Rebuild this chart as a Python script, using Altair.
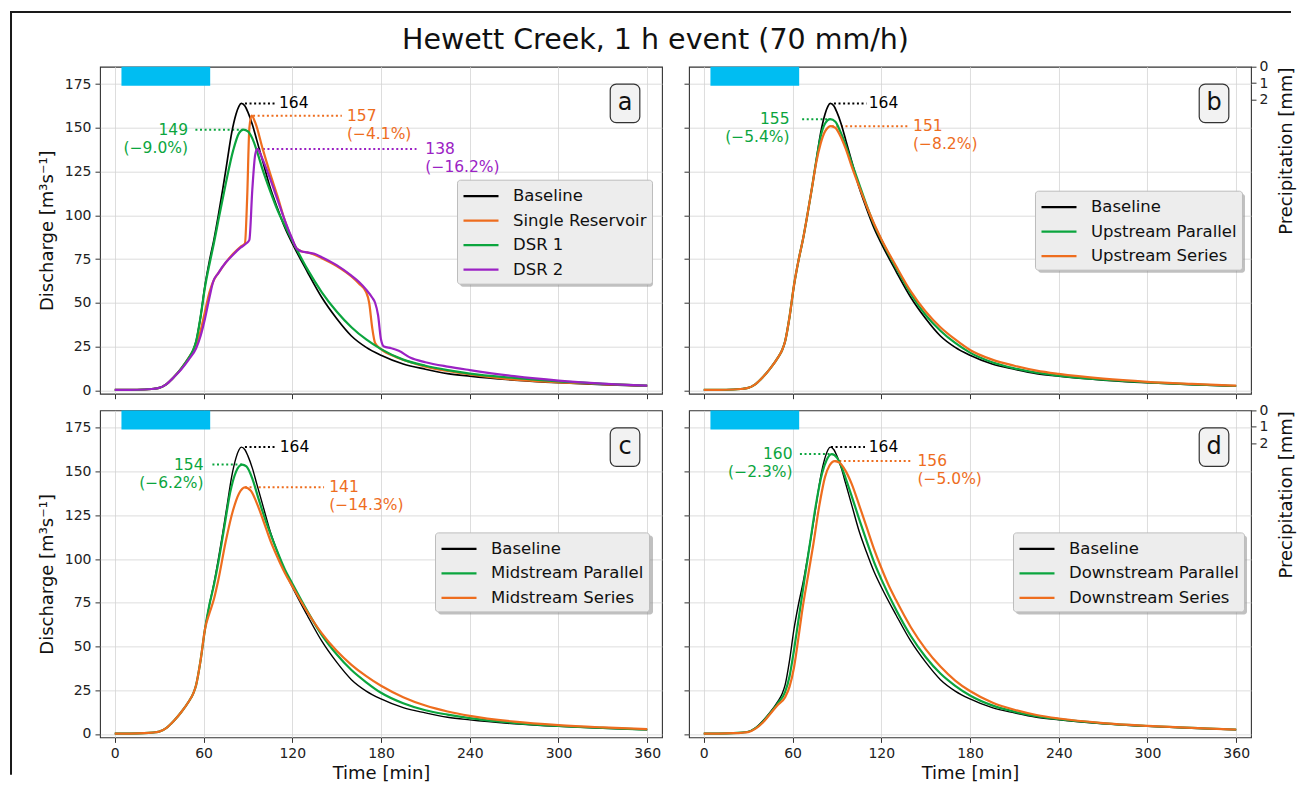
import altair as alt
import pandas as pd

FONT = "DejaVu Sans"
BLACK = "#000000"
ORANGE = "#EE6D1E"
GREEN = "#0BA53E"
PURPLE = "#9B22C4"
RAIN = "#00BDF2"

TITLE = "Hewett Creek, 1 h event (70 mm/h)"

# ---------------- data ----------------
x_ticks = [0, 60, 120, 180, 240, 300, 360]
y_ticks = [0, 25, 50, 75, 100, 125, 150, 175]
p_ticks = [0, 1, 2]

rain_t0 = [4.5]
rain_t1 = [64.5]
rain_mm = [1.17]

baseline = [(0, 0.2), (10, 0.2), (20, 0.4), (25, 0.7), (30, 1.3), (35, 3.5), (40, 7.5), (45, 12.5),
            (50, 18.5), (53, 23), (55, 28), (58, 42), (61, 60), (64, 74), (67, 86), (70, 100), (73, 115),
            (76, 131), (79, 147), (82, 158), (84, 162.5), (85.5, 164), (88, 162.5), (90, 159), (93, 152),
            (96, 143), (100, 131), (105, 116), (110, 104), (115, 93), (120, 84), (130, 68), (140, 53),
            (150, 41), (160, 31), (170, 24.5), (180, 20), (195, 15), (210, 12), (225, 9.5), (240, 8),
            (270, 5.8), (300, 4.3), (330, 3.2), (360, 2.4)]

single_reservoir = [(0, 0.2), (10, 0.2), (20, 0.4), (25, 0.7), (30, 1.3), (35, 3.5), (40, 7.5), (45, 12.5),
                    (50, 18.5), (53, 22.5), (55, 26), (58, 34), (61, 45), (64, 56), (67, 63), (70, 67), (75, 73),
                    (80, 78), (85, 82), (88, 84), (89.5, 110), (91, 150), (92.5, 157), (95, 153), (100, 138),
                    (105, 124), (110, 111), (115, 97), (120, 86), (123, 81), (126, 79.5), (130, 78.8),
                    (135, 77.5), (140, 75.5), (150, 71), (160, 65), (165, 61), (170, 56), (172, 50), (174, 36),
                    (176, 27), (180, 23.5), (190, 19), (200, 16), (210, 13.5), (225, 11), (240, 9), (270, 6),
                    (300, 4.5), (330, 3.5), (360, 2.5)]

dsr1 = [(0, 0.2), (10, 0.2), (20, 0.4), (25, 0.7), (30, 1.3), (35, 3.5), (40, 7.5), (45, 12.5), (50, 18.5),
        (53, 23), (55, 28), (58, 42), (61, 59), (64, 72), (67, 84), (70, 97), (75, 118), (80, 137), (84, 147),
        (87, 149), (90, 148), (93, 144), (96, 137), (100, 126), (105, 114), (110, 103), (115, 94),
        (120, 85.5), (130, 69.5), (140, 56), (150, 45), (160, 36), (170, 29), (180, 23.5), (195, 17.5),
        (210, 14), (225, 11.5), (240, 9.5), (270, 7), (300, 5), (330, 3.7), (360, 2.6)]

dsr2 = [(0, 0.2), (10, 0.2), (20, 0.4), (25, 0.7), (30, 1.3), (35, 3.5), (40, 7.5), (45, 12), (50, 17.5),
        (55, 24), (58, 31), (61, 41), (64, 53), (66.5, 62), (70, 67), (75, 73), (80, 77.5), (85, 81.5),
        (89, 84), (91, 86), (93, 115), (95, 135), (96.5, 138), (98, 136), (100, 132), (105, 121), (110, 109),
        (115, 97), (120, 86.5), (123, 81), (126, 79.5), (130, 78.8), (135, 78), (140, 76), (150, 71.5),
        (160, 65.5), (165, 62), (170, 57.5), (174, 53), (176, 50), (178, 43), (180, 29), (182, 25),
        (187, 24), (192, 22.5), (200, 18.5), (210, 16), (225, 13.5), (240, 11.5), (270, 8), (300, 5.5),
        (330, 3.8), (360, 2.6)]

upstream_parallel = [(0, 0.2), (10, 0.2), (20, 0.4), (25, 0.7), (30, 1.3), (35, 3.5), (40, 7.5), (45, 12.5),
                     (50, 18.5), (53, 23), (55, 28), (58, 42), (61, 60), (64, 74), (67, 86), (70, 100),
                     (73, 115), (76, 131), (79, 145), (82, 152.5), (85.5, 155), (89, 153.5), (92, 148.5),
                     (96, 140), (100, 130), (105, 118), (110, 106), (115, 95), (120, 86), (130, 70), (140, 55),
                     (150, 43), (160, 34), (170, 27), (180, 21.5), (195, 16), (210, 12.5), (225, 10),
                     (240, 8.3), (270, 6), (300, 4.5), (330, 3.3), (360, 2.4)]

upstream_series = [(0, 0.2), (10, 0.2), (20, 0.4), (25, 0.7), (30, 1.3), (35, 3.5), (40, 7.5), (45, 12.5),
                   (50, 18.5), (53, 23), (55, 28), (58, 42), (61, 60), (64, 74), (67, 86), (70, 100),
                   (73, 115), (76, 130), (79, 141), (82, 148), (86, 151), (89, 150), (92, 146), (96, 138),
                   (100, 128), (105, 116.5), (110, 105.5), (115, 95.5), (120, 86.5), (130, 71), (140, 56.5),
                   (150, 45), (160, 36), (170, 29), (180, 23), (195, 17.5), (210, 14), (225, 11.2),
                   (240, 9.3), (270, 6.6), (300, 4.8), (330, 3.6), (360, 2.6)]

midstream_parallel = [(0, 0.2), (10, 0.2), (20, 0.4), (25, 0.7), (30, 1.3), (35, 3.5), (40, 7.5), (45, 12.5),
                      (50, 18.5), (53, 23), (55, 28), (58, 42), (61, 60), (64, 74), (67, 85), (70, 98),
                      (74, 118), (78, 138), (82, 150), (86, 154), (89, 153), (93, 146), (97, 135), (100, 127),
                      (105, 115), (110, 104), (115, 94), (120, 86), (130, 70.5), (140, 56.5), (150, 45.5),
                      (160, 36.5), (170, 29.5), (180, 23.5), (195, 17.5), (210, 13.5), (225, 11), (240, 9),
                      (270, 6.3), (300, 4.6), (330, 3.4), (360, 2.5)]

midstream_series = [(0, 0.2), (10, 0.2), (20, 0.4), (25, 0.7), (30, 1.3), (35, 3.5), (40, 7.5), (45, 12.5),
                    (50, 18.5), (53, 23), (55, 28), (58, 42), (61, 60), (64, 69), (67, 77), (70, 88), (75, 110),
                    (80, 128), (84, 137.5), (88, 141), (92, 139), (96, 132), (100, 123), (105, 111),
                    (110, 101), (115, 92), (120, 84.5), (130, 70), (140, 57.5), (150, 47.5), (160, 39.5),
                    (170, 33), (180, 27.5), (195, 21), (210, 16.2), (225, 12.8), (240, 10.3), (270, 7),
                    (300, 5), (330, 3.7), (360, 2.7)]

downstream_parallel = [(0, 0.2), (10, 0.2), (20, 0.4), (25, 0.7), (30, 1.2), (35, 3.3), (40, 7), (45, 12),
                       (50, 17.5), (55, 24), (58, 33), (61, 48), (64, 65), (68, 88), (72, 110), (76, 132),
                       (80, 149), (83, 156.5), (86.5, 160), (90, 158), (93, 153), (96, 146), (100, 136),
                       (105, 123), (110, 110.5), (115, 98.5), (120, 88.5), (130, 71), (140, 56), (150, 44),
                       (160, 34.5), (170, 27.5), (180, 22), (195, 16.3), (210, 12.7), (225, 10.2), (240, 8.4),
                       (270, 6), (300, 4.5), (330, 3.4), (360, 2.5)]

downstream_series = [(0, 0.2), (10, 0.2), (20, 0.4), (25, 0.6), (30, 1.0), (35, 3), (40, 6.5), (45, 11.5),
                     (50, 16.5), (55, 21), (58, 27), (61, 38), (64, 55), (67, 73), (70, 88), (74, 108),
                     (78, 130), (82, 147), (85, 153.5), (88.5, 156), (92, 155), (95.5, 151), (100, 143),
                     (105, 131), (110, 118.5), (115, 106), (120, 95), (125, 85), (130, 76.5), (140, 61),
                     (150, 48.5), (160, 38.5), (170, 30.5), (180, 24.5), (195, 18), (210, 13.8), (225, 10.8),
                     (240, 8.8), (270, 6.2), (300, 4.6), (330, 3.4), (360, 2.5)]

# peak annotations: (series, dotted-line start, dotted-line end, peak, label, label x)
ann_a = [("Baseline", 88, 108, 164, "164", 111),
         ("Single Reservoir", 93.5, 153.5, 157, "157\n(\u22124.1%)", 157),
         ("DSR 1", 54.5, 86.5, 149, "149\n(\u22129.0%)", 49.5),
         ("DSR 2", 97, 204, 138, "138\n(\u221216.2%)", 210)]
ann_b = [("Baseline", 88, 110, 164, "164", 111.5),
         ("Upstream Parallel", 66.5, 85.5, 155, "155\n(\u22125.4%)", 58),
         ("Upstream Series", 86.5, 138, 151, "151\n(\u22128.2%)", 141.5)]
ann_c = [("Baseline", 88, 108, 164, "164", 111.5),
         ("Midstream Parallel", 66, 86.5, 154, "154\n(\u22126.2%)", 60),
         ("Midstream Series", 88, 141.5, 141, "141\n(\u221214.3%)", 145)]
ann_d = [("Baseline", 86, 109, 164, "164", 111.5),
         ("Downstream Parallel", 65, 86.5, 160, "160\n(\u22122.3%)", 60),
         ("Downstream Series", 88.5, 140.5, 156, "156\n(\u22125.0%)", 144.5)]

X_DOMAIN = [-10, 370]
Y_DOMAIN = [-2, 185]
P_DOMAIN = [0, 20]
W, H = 562, 327


def make_panel(series, colors, widths, ann, letter, bottom, left, right, lx, ly, lw, lh, extras=()):
    names = [s[0] for s in series]
    cmap = dict(zip(names, colors))
    xs = alt.Scale(domain=X_DOMAIN, nice=False, zero=False)
    ys = alt.Scale(domain=Y_DOMAIN, nice=False, zero=False)
    ps = alt.Scale(domain=P_DOMAIN, nice=False, zero=False, reverse=True)
    if bottom:
        xaxis = alt.Axis(values=x_ticks, grid=True, title="Time [min]", labels=True)
    else:
        xaxis = alt.Axis(values=x_ticks, grid=True, title=None, labels=False)
    if left:
        yaxis = alt.Axis(values=y_ticks, grid=True, title="Discharge [m\u00b3s\u207b\u00b9]", labels=True,
                         orient="left", titlePadding=8)
    else:
        yaxis = alt.Axis(values=y_ticks, grid=True, title=None, labels=False, orient="left")
    if right:
        paxis = alt.Axis(values=p_ticks, orient="right", grid=False, title="Precipitation [mm]",
                         titleAngle=270, titleX=36, titleY=84, titleAlign="center",
                         titleBaseline="middle", labelPadding=3)
    else:
        paxis = None

    rain_df = pd.DataFrame({"t0": rain_t0, "t1": rain_t1, "p0": [0] * len(rain_mm), "p1": rain_mm})
    rain = alt.Chart(rain_df).mark_rect(color=RAIN).encode(
        x=alt.X("t0:Q", scale=xs, axis=xaxis), x2="t1:Q",
        y=alt.Y("p0:Q", scale=ps, axis=paxis), y2="p1:Q")

    legend = alt.Legend(orient="none", legendX=lx, legendY=ly, title=None, fillColor="#EDEDED",
                        strokeColor="#BDBDBD", cornerRadius=3, padding=5, symbolType="M-1,0H2.5",
                        symbolSize=400, symbolStrokeWidth=2.2, labelFont=FONT, labelFontSize=16.5,
                        labelColor="#111111", labelOffset=28, rowPadding=4.5, labelLimit=400)
    cscale = alt.Scale(domain=names, range=colors)

    ann_df = pd.DataFrame(ann, columns=["s", "x1", "x2", "y", "label", "tx"])
    ann_df["c"] = ann_df["s"].map(cmap)
    ann_df["al"] = ["right" if tx < x1 else "left" for tx, x1 in zip(ann_df["tx"], ann_df["x1"])]

    rules = alt.Chart(ann_df).mark_rule(strokeDash=[2, 2.6], strokeWidth=2).encode(
        x=alt.X("x1:Q", scale=xs, axis=xaxis), x2="x2:Q",
        y=alt.Y("y:Q", scale=ys, axis=yaxis), color=alt.Color("c:N", scale=None))

    lines = []
    for (name, pts), w in zip(series, widths):
        df = pd.DataFrame({"t": [p[0] for p in pts], "q": [p[1] for p in pts], "s": name})
        lines.append(alt.Chart(df).mark_line(strokeWidth=w, interpolate="monotone").encode(
            x=alt.X("t:Q", scale=xs, axis=xaxis), y=alt.Y("q:Q", scale=ys, axis=yaxis),
            color=alt.Color("s:N", scale=cscale, legend=legend)))

    texts = []
    for al in ["left", "right"]:
        sub = ann_df[ann_df["al"] == al]
        if len(sub):
            texts.append(alt.Chart(sub).mark_text(align=al, baseline="middle", font=FONT, fontSize=15.5,
                                                  lineBreak="\n", lineHeight=18).encode(
                x=alt.X("tx:Q", scale=xs, axis=xaxis), y=alt.Y("y:Q", scale=ys, axis=yaxis),
                text="label:N", color=alt.Color("c:N", scale=None)))

    lab_df = pd.DataFrame({"t0": [335], "t1": [355], "q0": [153], "q1": [175], "tc": [345], "qc": [164],
                           "txt": [letter]})
    box = alt.Chart(lab_df).mark_rect(fill="#F2F2F2", stroke="#333333", strokeWidth=1.2, cornerRadius=6).encode(
        x=alt.X("t0:Q", scale=xs, axis=xaxis), x2="t1:Q", y=alt.Y("q0:Q", scale=ys, axis=yaxis), y2="q1:Q")
    let = alt.Chart(lab_df).mark_text(font=FONT, fontSize=24, color="#111111", baseline="middle").encode(
        x=alt.X("tc:Q", scale=xs, axis=xaxis), y=alt.Y("qc:Q", scale=ys, axis=yaxis), text="txt:N")

    # drop shadow under the legend box (legend itself is drawn on top)
    shadow = alt.Chart(pd.DataFrame({"k": [0]})).mark_rect(fill="#8C8C8C", opacity=0.55, cornerRadius=3).encode(
        x=alt.value(lx + 3), x2=alt.value(lx + 3 + lw), y=alt.value(ly + 3), y2=alt.value(ly + 3 + lh))

    inner = alt.layer(rules, *lines, *texts, box, let, shadow, *extras)
    return alt.layer(rain, inner).resolve_scale(y="independent").properties(width=W, height=H)


# figure title and the figure's outer frame (decorations, placed relative to panel a)
one = pd.DataFrame({"txt": [TITLE]})
title_mark = alt.Chart(one).mark_text(font=FONT, fontSize=28.5, color="#111111", align="center",
                                      baseline="alphabetic").encode(
    x=alt.value(555.5), y=alt.value(-17.5), text="txt:N")
frame_top = alt.Chart(one).mark_rule(color="#1A1A1A", strokeWidth=2).encode(
    x=alt.value(-90), x2=alt.value(1191), y=alt.value(-54.7))
frame_left = alt.Chart(one).mark_rule(color="#1A1A1A", strokeWidth=2).encode(
    x=alt.value(-89), y=alt.value(-55.7), y2=alt.value(708))

pa = make_panel([("Baseline", baseline), ("Single Reservoir", single_reservoir), ("DSR 1", dsr1), ("DSR 2", dsr2)],
                [BLACK, ORANGE, GREEN, PURPLE], [1.7, 2.2, 2.2, 2.2], ann_a, "a",
                bottom=False, left=True, right=False, lx=357, ly=113, lw=193, lh=104,
                extras=(title_mark, frame_top, frame_left))
pb = make_panel([("Baseline", baseline), ("Upstream Parallel", upstream_parallel), ("Upstream Series", upstream_series)],
                [BLACK, GREEN, ORANGE], [1.7, 2.2, 2.2], ann_b, "b",
                bottom=False, left=False, right=True, lx=346, ly=124, lw=207, lh=79)
pc = make_panel([("Baseline", baseline), ("Midstream Parallel", midstream_parallel), ("Midstream Series", midstream_series)],
                [BLACK, GREEN, ORANGE], [1.4, 2.2, 2.2], ann_c, "c",
                bottom=True, left=True, right=False, lx=335, ly=122, lw=215, lh=79)
pd_ = make_panel([("Baseline", baseline), ("Downstream Parallel", downstream_parallel), ("Downstream Series", downstream_series)],
                 [BLACK, GREEN, ORANGE], [1.4, 2.2, 2.2], ann_d, "d",
                 bottom=True, left=False, right=True, lx=324, ly=122, lw=231, lh=79)

chart = alt.concat(pa, pb, pc, pd_, columns=2, spacing={"row": 16.7, "column": 27}, align="each",
                   bounds="flush").resolve_scale(
    color="independent", x="independent", y="independent"
).properties(
    padding={"left": 0, "top": 0.7, "right": 0, "bottom": 0},
).configure_view(stroke="#333333", strokeWidth=1.1).configure_axis(
    labelFont=FONT, labelFontSize=14, labelColor="#222222", titleFont=FONT, titleFontSize=18,
    titleFontWeight="normal", titleColor="#111111", tickColor="#333333", tickSize=5, labelPadding=4,
    domain=False, gridColor="#D4D4D4", gridWidth=0.8
)

chart.save("out.html", embed_options={"renderer": "svg", "actions": False})
